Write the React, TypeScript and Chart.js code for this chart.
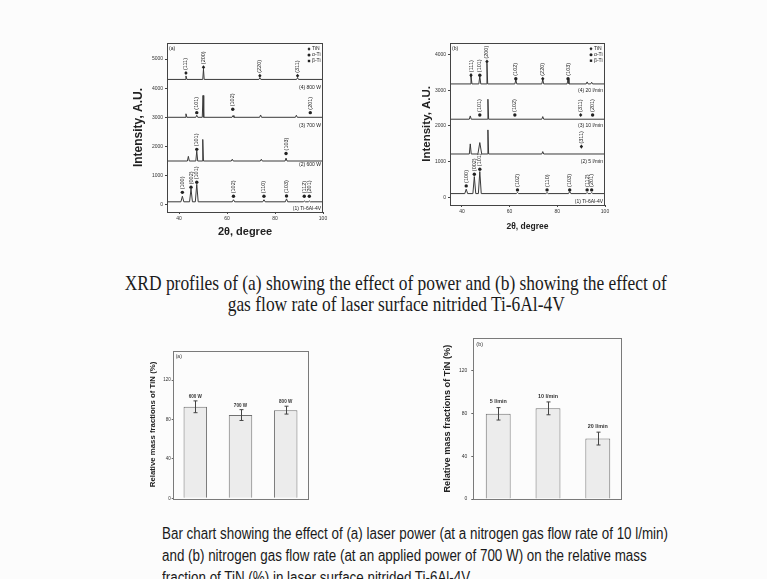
import React, { useEffect, useRef } from "react";
import { Chart, registerables } from "chart.js";

Chart.register(...registerables);

const FAMILY = "'Liberation Sans', Arial, Helvetica, sans-serif";
Chart.defaults.font.family = FAMILY;
Chart.defaults.color = "#333";

// ---------------- XRD data ----------------
const xrdXTicks = [40, 60, 80, 100];
const xrdAYTicks = [0, 1000, 2000, 3000, 4000, 5000];
const xrdBYTicks = [0, 1000, 2000, 3000, 4000];

// (a) effect of laser power: baseline intensity of each profile
const powerBaselines = [100, 1500, 3000, 4300];
const powerLabels = ["(1) Ti-6Al-4V", "(2) 600 W", "(3) 700 W", "(4) 800 W"];
const powerLabelY = [-140, 1360, 2700, 4030];
// peaks: [2θ, peak intensity, half width]
const powerPeaks1 = [[41.4, 290, 0.6], [45.0, 540, 0.6], [47.4, 700, 0.6], [62.7, 170, 0.5], [75.4, 170, 0.5], [84.8, 200, 0.5], [92.2, 130, 0.4], [94.3, 130, 0.4]];
const powerPeaks2 = [[43.9, 1660, 0.4], [47.4, 1840, 0.4], [49.9, 2240, 0.3], [62.2, 1560, 0.4], [74.3, 1560, 0.4], [84.6, 1600, 0.4]];
const powerPeaks3 = [[42.9, 3120, 0.4], [47.4, 3070, 0.4], [50.0, 3750, 0.3], [62.5, 3060, 0.4], [74.0, 3080, 0.4], [88.9, 3070, 0.4]];
const powerPeaks4 = [[42.9, 4420, 0.4], [50.2, 4650, 0.3], [73.7, 4360, 0.4], [89.4, 4360, 0.4]];
// indexed peaks: [2θ, marker intensity, hkl, phase]
const powerMarks = [
  [41.4, 425, "(100)", "a"], [45.0, 597, "(002)", "a"], [47.4, 770, "(101)", "a"], [62.7, 290, "(102)", "a"],
  [75.4, 290, "(110)", "a"], [84.8, 300, "(103)", "a"], [92.2, 290, "(112)", "a"], [94.3, 290, "(201)", "a"],
  [47.4, 1900, "(101)", "a"], [84.6, 1760, "(103)", "a"],
  [47.4, 3160, "(101)", "a"], [62.4, 3275, "(102)", "a"], [94.7, 3160, "(201)", "a"],
  [42.9, 4520, "(111)", "t"], [50.2, 4720, "(200)", "t"], [73.7, 4425, "(220)", "t"], [89.4, 4425, "(311)", "t"],
];

// (b) effect of gas flow rate
const flowBaselines = [100, 1210, 2185, 3174];
const flowLabels = ["(1) Ti-6Al-4V", "(2) 5 l/min", "(3) 10 l/min", "(4) 20 l/min"];
const flowLabelY = [-123, 997, 1997, 2986];
const flowPeaks1 = [[41.8, 224, 0.6], [45.2, 577, 0.6], [47.5, 717, 0.6], [63.3, 130, 0.5], [75.7, 130, 0.5], [85.2, 160, 0.5], [92.5, 130, 0.4], [94.4, 130, 0.4]];
const flowPeaks2 = [[43.5, 1493, 0.4], [47.5, 1530, 0.8], [50.9, 1885, 0.3], [73.9, 1277, 0.4]];
const flowPeaks3 = [[43.5, 2277, 0.4], [50.9, 2745, 0.3], [73.9, 2258, 0.4]];
const flowPeaks4 = [[43.8, 3398, 0.4], [47.5, 3398, 0.4], [50.5, 3753, 0.3], [62.6, 3286, 0.4], [73.9, 3300, 0.4], [84.5, 3300, 0.4], [92.5, 3230, 0.4], [94.4, 3220, 0.4]];
const flowMarks = [
  [41.8, 316, "(100)", "a"], [45.2, 644, "(002)", "a"], [47.5, 784, "(101)", "a"], [63.3, 204, "(102)", "a"],
  [75.7, 204, "(110)", "a"], [85.2, 204, "(103)", "a"], [92.5, 204, "(112)", "a"], [94.4, 204, "(201)", "a"],
  [90.1, 1417, "(311)", "t"],
  [47.5, 2305, "(101)", "a"], [62.2, 2305, "(102)", "a"], [89.8, 2305, "(311)", "t"], [94.8, 2305, "(201)", "a"],
  [43.8, 3420, "(111)", "t"], [47.5, 3420, "(101)", "a"], [50.5, 3800, "(200)", "t"], [62.6, 3320, "(102)", "a"],
  [73.9, 3320, "(220)", "t"], [84.5, 3320, "(103)", "a"],
];

const legendItems = [["TiN", "t"], ["α-Ti", "a"], ["β-Ti", "b"]];

// ---------------- Bar data ----------------
const barYTicks = [0, 40, 80, 120];
const powerCats = ["600 W", "700 W", "800 W"];
const powerTiN = [93, 84.6, 89.6];
const powerErr = [6, 5.5, 4];
const flowCats = ["5 l/min", "10 l/min", "20 l/min"];
const flowTiN = [79.5, 84.6, 56.4];
const flowErr = [5.8, 6, 6];

// ---------------- helpers ----------------
function tracePoints(base: number, peaks: number[][]) {
  const pts: { x: number; y: number }[] = [{ x: 35, y: base }];
  peaks.forEach(([p, h, w]) => {
    pts.push({ x: p - w, y: base }, { x: p, y: h }, { x: p + w, y: base });
  });
  pts.push({ x: 100, y: base });
  return pts;
}

const plainTick = (v: any) => String(v);

const framePlugin = {
  id: "frame",
  afterDraw(chart: any) {
    const { ctx, chartArea: a } = chart;
    ctx.save();
    ctx.strokeStyle = chart.options.frameColor || "#444";
    ctx.lineWidth = 1;
    ctx.strokeRect(Math.round(a.left) + 0.5, Math.round(a.top) + 0.5, Math.round(a.right - a.left) - 1, Math.round(a.bottom - a.top));
    ctx.restore();
  },
};

function drawMarker(ctx: CanvasRenderingContext2D, x: number, y: number, kind: string, r: number) {
  ctx.beginPath();
  if (kind === "t") {
    ctx.moveTo(x, y - r * 1.2); ctx.lineTo(x + r, y); ctx.lineTo(x, y + r * 1.2); ctx.lineTo(x - r, y); ctx.closePath();
  } else if (kind === "b") {
    ctx.rect(x - r * 0.8, y - r * 0.8, r * 1.6, r * 1.6);
  } else {
    ctx.arc(x, y, r, 0, Math.PI * 2);
  }
  ctx.fill();
}

function xrdConfig(o: any) {
  const annot = {
    id: "xrdAnnot",
    afterDatasetsDraw(chart: any) {
      const { ctx, chartArea: a, scales } = chart;
      const xs = scales.x, ys = scales.y;
      ctx.save();
      ctx.fillStyle = "#222";
      o.marks.forEach(([p, v, hkl, kind]: any) => {
        const px = xs.getPixelForValue(p), py = ys.getPixelForValue(v);
        drawMarker(ctx, px, py, kind, 1.7);
        ctx.save();
        ctx.translate(px, py - 3);
        ctx.rotate(-Math.PI / 2);
        ctx.font = `${o.hklSize}px ${FAMILY}`;
        ctx.textAlign = "left";
        ctx.textBaseline = "middle";
        ctx.fillText(hkl, 0, 0);
        ctx.restore();
      });
      ctx.font = `${o.smallSize}px ${FAMILY}`;
      ctx.textAlign = "right";
      ctx.textBaseline = "middle";
      o.names.forEach((n: string, i: number) => {
        ctx.fillText(n, a.right - 2, ys.getPixelForValue(o.nameY[i]));
      });
      ctx.textAlign = "left";
      ctx.fillText(o.panel, a.left + 2, a.top + 6);
      legendItems.forEach(([t, k], i) => {
        const yy = a.top + 6 + i * 6;
        drawMarker(ctx, a.right - 14, yy, k, 1.5);
        ctx.fillText(t, a.right - 11, yy);
      });
      ctx.restore();
    },
  };
  return {
    type: "line",
    data: {
      datasets: o.traces.map((t: any) => ({
        data: tracePoints(t[0], t[1]),
        borderColor: "#3a3a3a",
        borderWidth: 1,
        pointRadius: 0,
        tension: 0,
      })),
    },
    options: {
      animation: false,
      responsive: false,
      events: [],
      frameColor: "#444",
      layout: { padding: o.pad },
      plugins: { legend: { display: false }, tooltip: { enabled: false } },
      scales: {
        x: {
          type: "linear",
          min: 35,
          max: 100,
          afterBuildTicks: (s: any) => { s.ticks = xrdXTicks.map((v) => ({ value: v })); },
          afterFit: (s: any) => { s.height = o.xAxisH; },
          grid: { display: true, drawOnChartArea: false, tickLength: 2, color: "#444" },
          border: { display: false },
          ticks: { font: { size: 5 }, padding: 2, color: "#333", maxRotation: 0, autoSkip: false, callback: plainTick },
          title: { display: true, text: "2θ, degree", font: { size: o.xTitleSize, weight: "bold" }, padding: { top: 0, bottom: o.xTitlePad }, color: "#222" },
        },
        y: {
          type: "linear",
          min: o.yMin,
          max: o.yMax,
          afterBuildTicks: (s: any) => { s.ticks = o.yTicks.map((v: number) => ({ value: v })); },
          afterFit: (s: any) => { s.width = o.yAxisW; },
          grid: { display: true, drawOnChartArea: false, tickLength: 2, color: "#444" },
          border: { display: false },
          ticks: { font: { size: 5 }, padding: 2, color: "#333", autoSkip: false, callback: plainTick },
          title: { display: true, text: "Intensity, A.U.", font: { size: o.yTitleSize, weight: "bold" }, padding: { top: o.yTitlePad, bottom: 0 }, color: "#222" },
        },
      },
    },
    plugins: [framePlugin, annot],
  };
}

function barConfig(o: any) {
  const errPlugin = {
    id: "errBars",
    afterDatasetsDraw(chart: any) {
      const { ctx, scales, chartArea: a } = chart;
      const ys = scales.y;
      const meta = chart.getDatasetMeta(0);
      ctx.save();
      ctx.strokeStyle = "#444";
      ctx.fillStyle = "#333";
      ctx.lineWidth = 1;
      meta.data.forEach((bar: any, i: number) => {
        const x = Math.round(bar.x) + 0.5;
        const yt = ys.getPixelForValue(o.vals[i] + o.errs[i]);
        const yb = ys.getPixelForValue(o.vals[i] - o.errs[i]);
        ctx.beginPath();
        ctx.moveTo(x, yt); ctx.lineTo(x, yb);
        ctx.moveTo(x - 2, yt); ctx.lineTo(x + 2, yt);
        ctx.moveTo(x - 2, yb); ctx.lineTo(x + 2, yb);
        ctx.stroke();
        ctx.font = `bold ${o.labelSize}px ${FAMILY}`;
        ctx.textAlign = "center";
        ctx.textBaseline = "bottom";
        ctx.fillText(o.cats[i], bar.x, yt - o.labelGap);
      });
      ctx.font = `${o.panelSize}px ${FAMILY}`;
      ctx.textAlign = "left";
      ctx.textBaseline = "middle";
      ctx.fillText(o.panel, a.left + 3, a.top + 6);
      ctx.restore();
    },
  };
  return {
    type: "bar",
    data: {
      labels: o.cats,
      datasets: [{
        data: o.vals,
        backgroundColor: "#ececec",
        borderColor: "#707070",
        borderWidth: 1,
        barPercentage: o.barPct,
        categoryPercentage: 1,
      }],
    },
    options: {
      animation: false,
      responsive: false,
      events: [],
      frameColor: "#7a7a7a",
      layout: { padding: o.pad },
      plugins: { legend: { display: false }, tooltip: { enabled: false } },
      scales: {
        x: {
          grid: { display: false },
          border: { display: false },
          ticks: { display: false },
          afterFit: (s: any) => { s.height = o.xAxisH; },
        },
        y: {
          min: 0,
          max: 150,
          afterBuildTicks: (s: any) => { s.ticks = barYTicks.map((v) => ({ value: v })); },
          afterFit: (s: any) => { s.width = o.yAxisW; },
          grid: { display: true, drawOnChartArea: false, tickLength: o.tickLen, color: "#666" },
          border: { display: false },
          ticks: { font: { size: o.tickSize }, padding: o.tickPad, color: "#333", autoSkip: false, callback: plainTick },
          title: { display: true, text: "Relative mass fractions of TiN (%)", font: { size: o.yTitleSize, weight: "bold" }, padding: { top: o.yTitlePad, bottom: 0 }, color: "#222" },
        },
      },
    },
    plugins: [framePlugin, errPlugin],
  };
}

function ChartBox({ left, top, width, height, make }: any) {
  const ref = useRef<HTMLCanvasElement>(null);
  useEffect(() => {
    const chart = new Chart(ref.current as HTMLCanvasElement, make());
    return () => chart.destroy();
  }, []);
  return (
    <canvas
      ref={ref}
      width={width}
      height={height}
      style={{ position: "absolute", left, top, width, height }}
    />
  );
}

function measure(text: string, font: string) {
  const c = document.createElement("canvas").getContext("2d") as CanvasRenderingContext2D;
  c.font = font;
  return c.measureText(text).width;
}

const cap1 = [
  "XRD profiles of (a) showing the effect of power and (b) showing the effect of",
  "gas flow rate of laser surface nitrided Ti-6Al-4V",
];
const cap2 = [
  "Bar chart showing the effect of (a) laser power (at a nitrogen gas flow rate of 10 l/min)",
  "and (b) nitrogen gas flow rate (at an applied power of 700 W) on the relative mass",
  "fraction of TiN (%) in laser surface nitrided Ti-6Al-4V.",
];

export default function App() {
  const serif = "'Liberation Serif', 'Times New Roman', serif";
  const narrow = "'Liberation Sans Narrow', 'Liberation Sans', Arial, sans-serif";
  const f1 = `21px ${serif}`;
  const f2 = `16px ${narrow}`;
  const s1 = 542 / measure(cap1[0], f1);
  const s2 = 506 / measure(cap2[0], f2);

  return (
    <div style={{ position: "fixed", left: 0, top: 0, width: 767, height: 579, background: "#fcfcfc", overflow: "hidden" }}>
      <ChartBox
        left={128} top={30} width={202} height={210}
        make={() => xrdConfig({
          traces: [[powerBaselines[0], powerPeaks1], [powerBaselines[1], powerPeaks2], [powerBaselines[2], powerPeaks3], [powerBaselines[3], powerPeaks4]],
          marks: powerMarks, names: powerLabels, nameY: powerLabelY, panel: "(a)",
          yMin: -250, yMax: 5550, yTicks: xrdAYTicks,
          pad: { top: 13, right: 7, left: 0, bottom: 0 }, yAxisW: 39, xAxisH: 28,
          xTitleSize: 11, xTitlePad: 1, yTitleSize: 12, yTitlePad: 3.4, hklSize: 5.5, smallSize: 5,
        })}
      />
      <ChartBox
        left={415} top={30} width={197} height={204}
        make={() => xrdConfig({
          traces: [[flowBaselines[0], flowPeaks1], [flowBaselines[1], flowPeaks2], [flowBaselines[2], flowPeaks3], [flowBaselines[3], flowPeaks4]],
          marks: flowMarks, names: flowLabels, nameY: flowLabelY, panel: "(b)",
          yMin: -220, yMax: 4330, yTicks: xrdBYTicks,
          pad: { top: 12.7, right: 7, left: 0, bottom: 0 }, yAxisW: 35, xAxisH: 29,
          xTitleSize: 8.5, xTitlePad: 2.2, yTitleSize: 11.5, yTitlePad: 4.8, hklSize: 5.5, smallSize: 5,
        })}
      />
      <ChartBox
        left={145} top={340} width={169} height={163}
        make={() => barConfig({
          cats: powerCats, vals: powerTiN, errs: powerErr, panel: "(a)",
          pad: { top: 10.7, right: 5.7, left: 0, bottom: 0 }, yAxisW: 27.7, xAxisH: 4.7,
          barPct: 0.52, yTitleSize: 7.8, yTitlePad: 3, tickSize: 4.5, tickLen: 1, tickPad: 1,
          labelSize: 4.6, labelGap: 2, panelSize: 5,
        })}
      />
      <ChartBox
        left={438} top={330} width={190} height={176}
        make={() => barConfig({
          cats: flowCats, vals: flowTiN, errs: flowErr, panel: "(b)",
          pad: { top: 8.3, right: 5.3, left: 0, bottom: 0 }, yAxisW: 35.3, xAxisH: 4.3,
          barPct: 0.5, yTitleSize: 9.2, yTitlePad: 3.5, tickSize: 5, tickLen: 2, tickPad: 4,
          labelSize: 5.4, labelGap: 3, panelSize: 5.5,
        })}
      />
      {cap1.map((t, i) => (
        <div key={"c1" + i} style={{ position: "absolute", left: 0, width: 792, top: 272 + i * 21, height: 22, lineHeight: "22px", textAlign: "center", whiteSpace: "nowrap", color: "#1a1a1a" }}>
          <span style={{ display: "inline-block", font: f1, lineHeight: "22px", transform: `scaleX(${s1})`, transformOrigin: "center" }}>{t}</span>
        </div>
      ))}
      {cap2.map((t, i) => (
        <div key={"c2" + i} style={{ position: "absolute", left: 162, top: 523 + i * 22, height: 22, lineHeight: "22px", whiteSpace: "nowrap", color: "#1a1a1a" }}>
          <span style={{ display: "inline-block", font: f2, lineHeight: "22px", transform: `scaleX(${s2})`, transformOrigin: "left" }}>{t}</span>
        </div>
      ))}
    </div>
  );
}
